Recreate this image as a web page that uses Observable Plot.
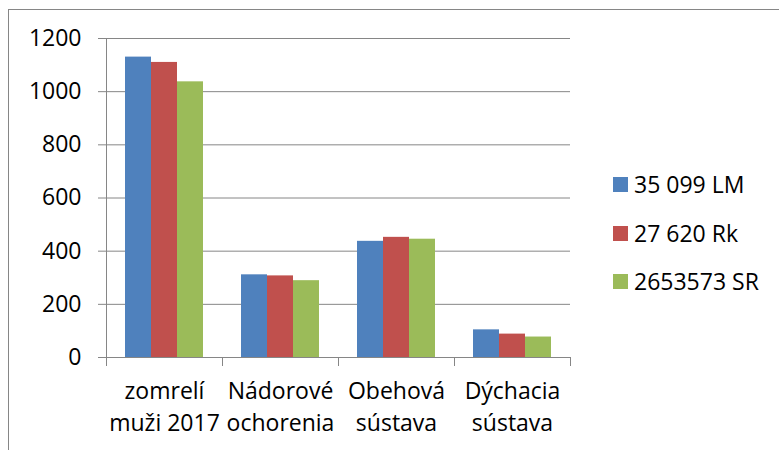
<!DOCTYPE html>
<html>
<head>
<meta charset="utf-8">
<script src="https://cdn.jsdelivr.net/npm/d3@7"></script>
<script src="https://cdn.jsdelivr.net/npm/@observablehq/plot@0.6"></script>
<style>
  html, body { margin: 0; padding: 0; background: #fff; overflow: hidden; }
  body { width: 779px; height: 450px; position: relative; font-family: "Open Sans", Lato, sans-serif; }
  #border { position: absolute; left: 8px; top: 9px; width: 900px; height: 600px; border-left: 1px solid #868686; border-top: 1px solid #868686; }
  #chart { position: absolute; left: 0; top: 0; }
  #legend { position: absolute; left: 613px; top: 0; font-size: 23px; color: #000; }
  .item { position: absolute; left: 0; display: flex; align-items: center; white-space: nowrap; height: 30px; }
  .sw { width: 15px; height: 15px; margin-right: 6px; flex: none; }
</style>
</head>
<body>
<div id="border"></div>
<div id="chart"></div>
<div id="legend"></div>
<script>
// ---- data ----
const categories = ["zomrelí\nmuži 2017", "Nádorové\nochorenia", "Obehová\nsústava", "Dýchacia\nsústava"];
const series = ["35 099 LM", "27 620 Rk", "2653573 SR"];
const valuesLM = [1130, 311, 437, 104];
const valuesRk = [1110, 307, 452, 88];
const valuesSR = [1037, 289, 445, 77];
const yTicks = [0, 200, 400, 600, 800, 1000, 1200];
const colors = ["#4F81BD", "#C0504D", "#9BBB59"];

const allValues = [valuesLM, valuesRk, valuesSR];
const rows = [];
categories.forEach((c, i) => series.forEach((s, j) => rows.push({category: c, series: s, value: allValues[j][i]})));

const W = 600, H = 450, mt = 38, mb = 93, ml = 105, mr = 30;
const inner = H - mt - mb;
const grid = "#868686";
const font = "'Open Sans', Lato, sans-serif";

const plot = Plot.plot({
  width: W, height: H,
  marginTop: mt, marginBottom: mb, marginLeft: ml, marginRight: mr,
  style: {fontFamily: font, fontSize: "23px", color: "#000", background: "transparent"},
  fx: {domain: categories, padding: 0, axis: null},
  x: {domain: series, paddingInner: 0, paddingOuter: 0.725, axis: null},
  y: {domain: [0, 1200], axis: null},
  color: {domain: series, range: colors},
  marks: [
    Plot.ruleY(yTicks, {stroke: grid, strokeWidth: 1}),
    Plot.barY(rows, {fx: "category", x: "series", y: "value", fill: "series"}),
    Plot.frame({anchor: "left", stroke: grid, facetAnchor: "left"}),
    Plot.frame({anchor: "left", stroke: grid, insetTop: inner, insetBottom: -8}),
    Plot.frame({anchor: "right", stroke: grid, insetTop: inner, insetBottom: -8, facetAnchor: "right"}),
    Plot.axisY({ticks: yTicks, tickSize: 8, tickPadding: 17, tickFormat: d => String(d), label: null, stroke: grid, fill: "#000", fontSize: 23, facetAnchor: "left"}),
    Plot.text(categories, {fx: d => d, text: d => d, frameAnchor: "bottom", lineAnchor: "top", dy: 19, lineHeight: 1.39, fontSize: 23, fill: "#000"})
  ]
});
document.getElementById("chart").appendChild(plot);

// legend
const legend = document.getElementById("legend");
const legendTops = [169, 218, 266];
series.forEach((s, j) => {
  const it = document.createElement("div");
  it.className = "item";
  it.style.top = legendTops[j] + "px";
  const sw = document.createElement("span");
  sw.className = "sw";
  sw.style.background = colors[j];
  const t = document.createElement("span");
  t.textContent = s;
  it.appendChild(sw); it.appendChild(t);
  legend.appendChild(it);
});
</script>
</body>
</html>
